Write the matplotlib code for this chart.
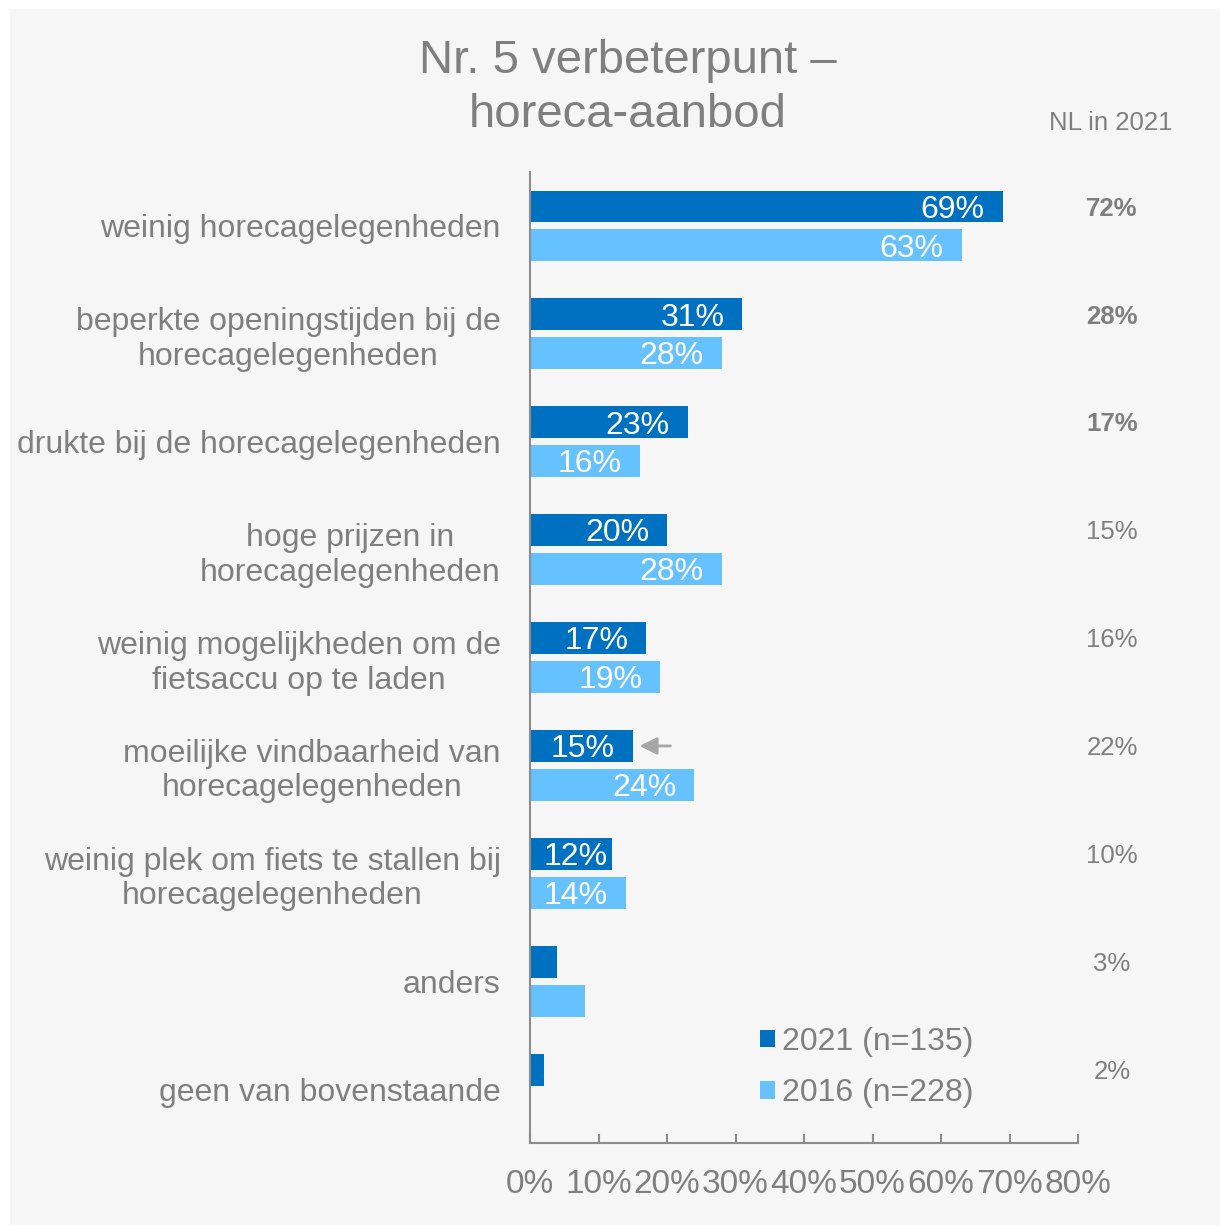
import matplotlib
matplotlib.use("Agg")
import matplotlib.pyplot as plt
from matplotlib.patches import Rectangle
from matplotlib.transforms import blended_transform_factory
import numpy as np

plt.rcParams['font.family'] = ['Liberation Sans', 'DejaVu Sans']

# data
categories = [
    "weinig horecagelegenheden",
    "beperkte openingstijden bij de\nhorecagelegenheden",
    "drukte bij de horecagelegenheden",
    "hoge prijzen in\nhorecagelegenheden",
    "weinig mogelijkheden om de\nfietsaccu op te laden",
    "moeilijke vindbaarheid van\nhorecagelegenheden",
    "weinig plek om fiets te stallen bij\nhorecagelegenheden",
    "anders",
    "geen van bovenstaande",
]
vals_2021 = [69, 31, 23, 20, 17, 15, 12, 4, 2]
vals_2016 = [63, 28, 16, 28, 19, 24, 14, 8, 0]
show_label = [True, True, True, True, True, True, True, False, False]
nl_2021 = ["72%", "28%", "17%", "15%", "16%", "22%", "10%", "3%", "2%"]
nl_bold = [True, True, True, False, False, False, False, False, False]
legend_labels = ["2021 (n=135)", "2016 (n=228)"]
xticks = [0, 10, 20, 30, 40, 50, 60, 70, 80]

c21 = "#0070C0"
c16 = "#66C2FF"
grey = "#7f7f7f"

fig = plt.figure(figsize=(12.2, 12.25), dpi=100, facecolor="white")
fig.patches.append(Rectangle((10/1220, 0), 1210/1220, 1216/1225, transform=fig.transFigure,
                             facecolor="#f6f6f6", edgecolor="none", zorder=-10))

ax = fig.add_axes([530/1220, 1 - 1143/1225, 548/1220, 971/1225])
ax.set_facecolor("none")

y = np.arange(len(categories))
off = 0.18
h = 0.296
ax.barh(y - off, vals_2021, height=h, color=c21, label=legend_labels[0])
ax.barh(y + off, vals_2016, height=h, color=c16, label=legend_labels[1])

# value labels inside the bars
for i in range(len(categories)):
    if not show_label[i]:
        continue
    for v, yy in [(vals_2021[i], y[i] - off), (vals_2016[i], y[i] + off)]:
        ax.text(max(v - 2.6, 11.4), yy + 0.03, f"{v}%", ha="right", va="center",
                color="white", fontsize=23)

ax.annotate("", xy=(15.6, y[5] - off), xytext=(20.9, y[5] - off),
            arrowprops=dict(arrowstyle="-|>", color="#a6a6a6", lw=2, mutation_scale=26))

ax.set_xlim(0, 80)
ax.set_ylim(len(categories) - 0.5, -0.5)
ax.set_xticks(xticks)
ax.set_xticklabels([f"{t}%" for t in xticks])
ax.set_yticks(y)
ax.set_yticklabels(categories, multialignment="center")
ax.tick_params(axis="x", direction="in", length=6.5, width=1.5, color="#8c8c8c",
               labelsize=24, labelcolor=grey, pad=19)
ax.tick_params(axis="y", length=0, labelsize=23, labelcolor=grey, pad=21)
for s in ["top", "right"]:
    ax.spines[s].set_visible(False)
for s in ["left", "bottom"]:
    ax.spines[s].set_color("#8c8c8c")
    ax.spines[s].set_linewidth(1.5)

# NL in 2021 column
tr = blended_transform_factory(fig.transFigure, ax.transData)
for i, lab in enumerate(nl_2021):
    ax.text(1112/1220, y[i] - off + 0.02, lab, transform=tr, ha="center", va="center",
            fontsize=18.5, color=grey, fontweight="bold" if nl_bold[i] else "normal")
fig.text(1111/1220, 1 - 123/1225, "NL in 2021", ha="center", va="center",
         fontsize=18.5, color=grey)

fig.text(628/1220, 1 - 88/1225, "Nr. 5 verbeterpunt \u2013\nhoreca-aanbod",
         ha="center", va="center", fontsize=34, color=grey, linespacing=1.32)

leg = ax.legend(loc="upper left", bbox_to_anchor=(760/1220, 1 - 1027/1225),
                bbox_transform=fig.transFigure, frameon=False, fontsize=23,
                handlelength=0.47, handleheight=0.47, handletextpad=0.22,
                labelspacing=0.67, borderpad=0, borderaxespad=0)
for t in leg.get_texts():
    t.set_color(grey)

fig.savefig("out.png", dpi=100, facecolor="white")
